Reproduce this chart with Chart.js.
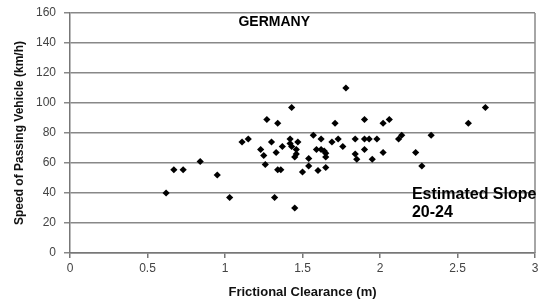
<!DOCTYPE html>
<html><head><meta charset="utf-8">
<script src="https://cdn.jsdelivr.net/npm/chart.js@4/dist/chart.umd.min.js"></script>
<style>html,body{margin:0;padding:0;background:#fff}#c{display:block}</style>
</head><body>
<canvas id="c" width="539" height="304"></canvas>
<script>
const clearance = [0.62,0.67,0.73,0.84,0.95,1.03,1.11,1.15,1.23,1.25,1.26,1.27,1.30,1.32,1.33,1.34,1.34,1.36,1.37,1.42,1.42,1.43,1.43,1.45,1.45,1.46,1.46,1.47,1.50,1.54,1.54,1.57,1.59,1.60,1.62,1.62,1.64,1.65,1.65,1.65,1.69,1.71,1.73,1.76,1.78,1.84,1.84,1.85,1.90,1.90,1.90,1.93,1.95,1.98,2.02,2.02,2.06,2.12,2.14,2.23,2.27,2.33,2.57,2.68];
const speed = [40,55.5,55.5,61,52,37,74,76,69,65,59,89,74,37,67,86.5,55.5,55.5,71,76,73,97,71,30,64,69,66,74,54,63,58,78.5,69,55,76,69,68,66.5,64,57,74,86.5,76,71,110,76,66,62.5,89,76,69,76,62.5,76,86.5,67,89,76,78.5,67,58,78.5,86.5,97];
const xTicks = [0,0.5,1,1.5,2,2.5,3];
const yTicks = [0,20,40,60,80,100,120,140,160];
const xTitle = 'Frictional Clearance (m)';
const yTitle = 'Speed of Passing Vehicle (km/h)';
const countryLabel = 'GERMANY';
const slopeLabel = ['Estimated Slope','20-24'];

const FONT = '"Liberation Sans", Arial, sans-serif';

const notes = {
  id: 'notes',
  afterDatasetsDraw(chart) {
    const {ctx, chartArea: a, scales: {x, y}} = chart;
    ctx.save();
    ctx.strokeStyle = '#888';
    ctx.lineWidth = 1.5;
    ctx.beginPath();
    ctx.moveTo(a.right, a.top); ctx.lineTo(a.right, a.bottom);
    ctx.stroke();
    ctx.fillStyle = '#000';
    ctx.textBaseline = 'middle';
    ctx.textAlign = 'left';
    ctx.font = 'bold 14px ' + FONT;
    ctx.fillText(countryLabel, x.getPixelForValue(1.087), y.getPixelForValue(154));
    ctx.font = 'bold 16px ' + FONT;
    ctx.fillText(slopeLabel[0], x.getPixelForValue(2.206), y.getPixelForValue(38.7));
    ctx.fillText(slopeLabel[1], x.getPixelForValue(2.206), y.getPixelForValue(26.7));
    ctx.restore();
  }
};

new Chart(document.getElementById('c'), {
  type: 'scatter',
  data: {
    datasets: [{
      data: clearance.map((v, i) => ({x: v, y: speed[i]})),
      pointStyle: 'rectRot',
      pointRadius: 3.6,
      backgroundColor: '#000',
      borderColor: '#000',
      borderWidth: 0
    }]
  },
  options: {
    responsive: false,
    devicePixelRatio: 1,
    animation: false,
    layout: {padding: {top: 13, right: 2, left: 0, bottom: 0}},
    plugins: {legend: {display: false}, tooltip: {enabled: false}},
    scales: {
      x: {
        type: 'linear', min: 0, max: 3,
        afterBuildTicks: s => { s.ticks = xTicks.map(v => ({value: v})); },
        afterFit: s => { s.height = 51; s.paddingLeft = 0; s.paddingRight = 0; },
        grid: {drawOnChartArea: false, drawTicks: true, tickLength: 5, color: '#777', lineWidth: 1.5},
        border: {display: true, color: '#777', width: 1.5},
        ticks: {color: '#444', font: {family: FONT, size: 12}, padding: 3, maxRotation: 0,
          callback: v => String(v)},
        title: {display: true, text: xTitle, color: '#111', font: {family: FONT, size: 13, weight: 'bold'}, padding: {top: 4, bottom: 4}}
      },
      y: {
        type: 'linear', min: 0, max: 160,
        afterBuildTicks: s => { s.ticks = yTicks.map(v => ({value: v})); },
        afterFit: s => { s.width = 70; s.paddingTop = 0; s.paddingBottom = 0; },
        grid: {color: '#888', lineWidth: 1.5, drawTicks: true, tickLength: 6},
        border: {display: true, color: '#777', width: 1.5},
        ticks: {color: '#444', font: {family: FONT, size: 12}, padding: 8},
        title: {display: true, text: yTitle, color: '#111', font: {family: FONT, size: 12, weight: 'bold'}, padding: {top: 12, bottom: 2}}
      }
    }
  },
  plugins: [notes]
});
</script>
</body></html>
